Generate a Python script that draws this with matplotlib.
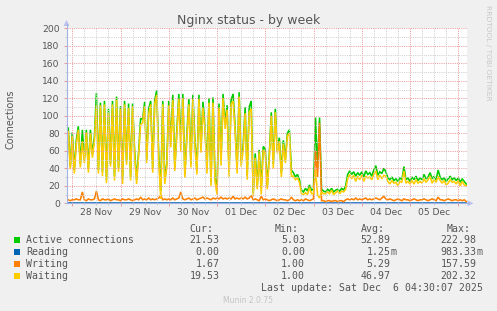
import matplotlib
matplotlib.use("Agg")
import matplotlib.pyplot as plt
import matplotlib.dates as mdates
import matplotlib.transforms as mtransforms
from matplotlib.patches import Polygon, Rectangle
from matplotlib.lines import Line2D
from matplotlib.ticker import NullFormatter
import pandas as pd

# ---------------- data ----------------
start_time = "2025-11-27 22:00"      # first hourly sample
view_start = "2025-11-27 21:07"
view_end = "2025-12-06 04:22"

active = [
    86, 42, 81, 38, 72, 88, 45, 84, 50, 84, 40, 84, 56, 76,
    126, 38, 115, 36, 117, 27, 108, 45, 117, 31, 122, 40, 111, 27, 117, 48, 114, 30, 114,
    60, 27, 59, 97,
    96, 116, 50, 108, 117, 40, 118, 129, 55, 14,
    117, 27, 45, 117, 68, 124, 41, 82, 125, 72,
    125, 33, 79, 119, 45, 124, 72, 37, 124, 64,
    116, 89, 40, 120, 24, 121, 30, 16, 114, 50,
    125, 91, 112, 36, 118, 125, 87, 40, 127, 48,
    66, 110, 32, 110, 117,
    12, 57, 20, 61, 18, 65, 62, 20, 55, 104,
    45, 108, 60, 75, 35, 72, 50, 80, 84, 38,
    35, 30, 33, 27, 15, 13, 17, 14, 21, 15,
    16, 98, 40, 98, 16, 14, 13, 16, 14, 17,
    13, 15, 16, 14, 17, 15, 20,
    33, 37, 33, 36, 31, 35, 32, 36, 30, 37,
    33, 35, 31, 38, 43, 32, 36, 34, 40, 36,
    29, 27, 30, 26, 28, 25, 29, 27, 42, 27,
    29, 25, 30, 27, 31, 26, 29, 27, 33, 28,
    30, 35, 28, 31, 27, 38, 30, 27, 29, 25,
    28, 31, 27, 29, 26, 29, 24, 28, 25, 22,
]

reading = [
    0, 0, 0, 0, 0, 0, 0, 0, 0, 0, 0, 0, 0, 0,
    0, 0, 0, 0, 0, 0, 0, 0, 0, 0, 0, 0, 0, 0, 0, 0, 0, 0, 0,
    0, 0, 0, 0,
    0, 0, 0, 0, 0, 0, 0, 0, 0, 0,
    0, 0, 0, 0, 0, 0, 0, 0, 0, 0,
    0, 0, 0, 0, 0, 0, 0, 0, 0, 0,
    0, 0, 0, 0, 0, 0, 0, 0, 0, 0,
    0, 0, 0, 0, 0, 0, 0, 0, 0, 0,
    0, 0, 0, 0, 0,
    0, 0, 0, 0, 0, 0, 0, 0, 0, 0,
    0, 0, 0, 0, 0, 0, 0, 0, 0, 0,
    0, 0, 0, 0, 0, 0, 0, 0, 0, 0,
    0, 0, 0, 0, 0, 0, 0, 0, 0, 0,
    0, 0, 0, 0, 0, 0, 0,
    0, 0, 0, 0, 0, 0, 0, 0, 0, 0,
    0, 0, 0, 0, 0, 0, 0, 0, 0, 0,
    0, 0, 0, 0, 0, 0, 0, 0, 0, 0,
    0, 0, 0, 0, 0, 0, 0, 0, 0, 0,
    0, 0, 0, 0, 0, 0, 0, 0, 0, 0,
    0, 0, 0, 0, 0, 0, 0, 0, 0, 0,
]

writing = [
    4, 3, 4, 4, 5, 4, 4, 13, 4, 3, 5, 4, 4, 5,
    14, 4, 3, 5, 4, 4, 5, 3, 4, 5, 4, 4, 3, 5, 4, 4, 5, 4, 3,
    4, 5, 4, 7,
    4, 5, 4, 6, 4, 5, 4, 5, 6, 9,
    4, 5, 4, 5, 4, 6, 4, 5, 6, 13,
    5, 4, 5, 6, 4, 5, 6, 4, 5, 6,
    7, 5, 6, 5, 4, 6, 5, 6, 5, 7,
    5, 6, 5, 6, 5, 8, 5, 6, 5, 6,
    5, 7, 5, 6, 9,
    4, 5, 4, 3, 8, 4, 5, 4, 3, 4,
    5, 4, 3, 4, 5, 4, 4, 3, 4, 7,
    4, 3, 4, 3, 4, 3, 5, 4, 3, 4,
    5, 60, 30, 92, 3, 3, 2, 3, 3, 2,
    3, 3, 2, 3, 3, 2, 4,
    5, 4, 5, 4, 6, 4, 5, 4, 5, 6,
    4, 5, 4, 5, 6, 5, 4, 6, 8, 5,
    4, 5, 4, 3, 4, 5, 4, 3, 5, 4,
    4, 3, 4, 5, 4, 3, 4, 4, 5, 4,
    3, 4, 5, 4, 3, 7, 4, 4, 3, 4,
    5, 4, 3, 4, 4, 3, 4, 3, 4, 2,
]

waiting = [
    82, 39, 77, 34, 67, 84, 41, 71, 46, 81, 35, 80, 52, 71,
    112, 34, 112, 31, 113, 23, 103, 42, 113, 26, 118, 36, 108, 22, 113, 44, 109, 26, 111,
    56, 22, 55, 90,
    92, 111, 46, 102, 113, 35, 114, 124, 49, 5,
    113, 22, 41, 112, 64, 118, 37, 77, 119, 59,
    120, 29, 74, 113, 41, 119, 66, 33, 119, 58,
    109, 84, 34, 115, 20, 115, 25, 10, 109, 43,
    120, 85, 107, 30, 113, 117, 82, 34, 122, 42,
    61, 103, 27, 104, 108,
    8, 52, 16, 58, 10, 61, 57, 16, 52, 100,
    40, 104, 57, 71, 30, 68, 46, 77, 80, 31,
    31, 27, 29, 24, 11, 10, 12, 10, 18, 11,
    11, 38, 10, 6, 13, 11, 11, 13, 11, 15,
    10, 12, 14, 11, 14, 13, 16,
    28, 33, 28, 32, 25, 31, 27, 32, 25, 31,
    29, 30, 27, 33, 37, 27, 32, 28, 32, 31,
    25, 22, 26, 23, 24, 20, 25, 24, 37, 23,
    25, 22, 26, 22, 27, 23, 25, 23, 28, 24,
    27, 31, 23, 27, 24, 31, 26, 23, 26, 21,
    23, 27, 24, 25, 22, 26, 20, 25, 21, 20,
]

series_names = ["Active connections", "Reading", "Writing", "Waiting"]
series_colors = ["#00CC00", "#0066B3", "#FF8000", "#FFCC00"]
stat_headers = ["Cur:", "Min:", "Avg:", "Max:"]
stat_values = [
    ["21.53", "5.03", "52.89", "222.98"],
    ["0.00", "0.00", "1.25m", "983.33m"],
    ["1.67", "1.00", "5.29", "157.59"],
    ["19.53", "1.00", "46.97", "202.32"],
]
day_labels = ["28 Nov", "29 Nov", "30 Nov", "01 Dec", "02 Dec", "03 Dec", "04 Dec", "05 Dec"]
day_label_times = pd.date_range("2025-11-28 12:00", periods=len(day_labels), freq="D")
y_ticks = [0, 20, 40, 60, 80, 100, 120, 140, 160, 180, 200]
y_minor = [10, 30, 50, 70, 90, 110, 130, 150, 170, 190]
title = "Nginx status - by week"
y_label = "Connections"
last_update = "Last update: Sat Dec  6 04:30:07 2025"
footer = "Munin 2.0.75"
watermark = "RRDTOOL / TOBI OETIKER"

# ---------------- figure ----------------
W, H = 497, 311
BG = "#F0F0F0"
TXT = "#555555"
MAJ = "#EC9A9A"
MIN = "#CFCFCF"
AXC = "#A4B2E2"

fig = plt.figure(figsize=(W / 100, H / 100), dpi=100, facecolor=BG)


def fx(px):
    return px / W


def fy(py):
    return 1 - py / H


L, R, T, B = 66.5, 467.0, 28.3, 203.3
ax = fig.add_axes([fx(L), fy(B), fx(R) - fx(L), fy(T) - fy(B)])
ax.set_facecolor("white")

times = mdates.date2num(pd.date_range(start_time, periods=len(active), freq="h").to_pydatetime())
lw = 1.15
for vals, col in zip([active, reading, writing, waiting], series_colors):
    ax.plot(times, vals, color=col, lw=lw, zorder=2, solid_joinstyle="miter")

ax.set_xlim(mdates.date2num(pd.Timestamp(view_start).to_pydatetime()),
            mdates.date2num(pd.Timestamp(view_end).to_pydatetime()))
ax.set_ylim(0, 200)

ax.xaxis.set_major_locator(mdates.DayLocator())
ax.xaxis.set_minor_locator(mdates.HourLocator(byhour=[6, 12, 18]))
ax.xaxis.set_major_formatter(NullFormatter())
ax.xaxis.set_minor_formatter(NullFormatter())
ax.set_yticks(y_ticks)
ax.set_yticks(y_minor, minor=True)
ax.set_yticklabels([str(v) for v in y_ticks])

ax.set_axisbelow(False)
ax.grid(True, which="minor", color=MIN, lw=0.72, ls=(0, (1, 1.2)))
ax.grid(True, which="major", color=MAJ, lw=0.72, ls=(0, (1, 1.2)))
ax.tick_params(axis="both", which="major", length=2.2, width=0.72, color=MAJ,
               labelsize=6.6, labelcolor=TXT, pad=2.6)
ax.tick_params(axis="both", which="minor", length=1.5, width=0.72, color=MIN)
for s in ax.spines.values():
    s.set_visible(False)

# x labels at noon
xlab_tr = mtransforms.blended_transform_factory(ax.transData, fig.transFigure)
for lab, tm in zip(day_labels, day_label_times):
    ax.text(mdates.date2num(tm.to_pydatetime()), fy(212.5), lab, transform=xlab_tr,
            ha="center", va="center", fontsize=6.6, color=TXT)

# axes lines and arrows
fig.add_artist(Line2D([fx(L), fx(L)], [fy(B), fy(24)], color=AXC, lw=0.8))
fig.add_artist(Line2D([fx(L - 1), fx(469)], [fy(B), fy(B)], color=AXC, lw=0.8))
fig.add_artist(Polygon([(fx(L - 3), fy(26)), (fx(L + 3), fy(26)), (fx(L), fy(20))],
                       closed=True, color="#B8C2EE", lw=0))
fig.add_artist(Polygon([(fx(467.5), fy(B - 3)), (fx(467.5), fy(B + 3)), (fx(473.5), fy(B))],
                       closed=True, color="#B8C2EE", lw=0))

# titles
fig.text(fx(248.5), fy(24), title, ha="center", va="baseline", fontsize=9, color=TXT)
fig.text(fx(11), fy(119), y_label, rotation=90, ha="center", va="center", fontsize=6.9, color=TXT)
fig.text(fx(488), fy(53), watermark, rotation=270, ha="center", va="center", fontsize=5.4, color="#C8C8C8")

# legend
MONO = "DejaVu Sans Mono"
LFS = 7.1
col_right = [219.3, 305.0, 390.7, 476.7]
char_w = 5.96
for hdr, cr in zip(stat_headers, col_right):
    fig.text(fx(cr - char_w), fy(231.7), hdr, ha="right", va="baseline",
             family=MONO, fontsize=LFS, color=TXT)
for i, (name, col, vals) in enumerate(zip(series_names, series_colors, stat_values)):
    base = 243 + 12 * i
    fig.add_artist(Rectangle((fx(14), fy(base)), fx(6), 6 / H, color=col, lw=0))
    fig.text(fx(26), fy(base), name, ha="left", va="baseline",
             family=MONO, fontsize=LFS, color=TXT)
    for v, cr in zip(vals, col_right):
        unit = ""
        if v.endswith("m"):
            v, unit = v[:-1], "m"
        fig.text(fx(cr), fy(base), v, ha="right", va="baseline",
                 family=MONO, fontsize=LFS, color=TXT)
        if unit:
            fig.text(fx(cr), fy(base), unit, ha="left", va="baseline",
                     family=MONO, fontsize=LFS, color=TXT)
fig.text(fx(482.7), fy(291), last_update, ha="right", va="baseline",
         family=MONO, fontsize=LFS, color=TXT)
fig.text(fx(248), fy(303.3), footer, ha="center", va="baseline", fontsize=5.5, color="#C4C4C4")

fig.savefig("out.png", dpi=100, facecolor=BG)
